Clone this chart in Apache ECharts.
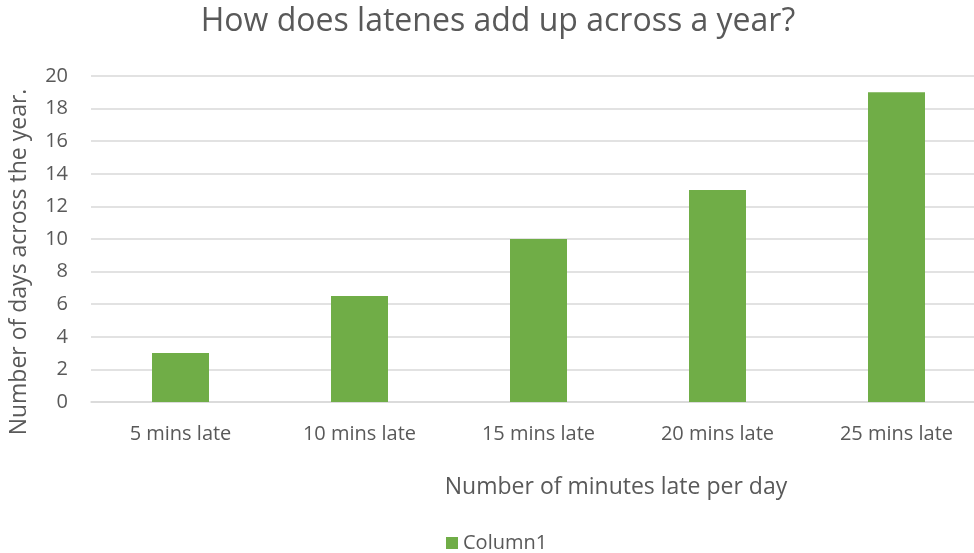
<!DOCTYPE html>
<html><head><meta charset="utf-8">
<script src="https://cdn.jsdelivr.net/npm/echarts@6/dist/echarts.min.js"></script>
<style>html,body{margin:0;padding:0;background:#fff}#c{width:974px;height:553px}</style>
</head><body><div id="c"></div>
<script>
const categories = ['5 mins late','10 mins late','15 mins late','20 mins late','25 mins late'];
const column1 = [3, 6.5, 10, 13, 19];
const yTicks = {min: 0, max: 20, interval: 2};
const FONT = 'Open Sans';
const TXT = '#595959';
const chart = echarts.init(document.getElementById('c'));
chart.setOption({
  animation: false,
  textStyle: {fontFamily: FONT, color: TXT},
  title: [
    {text: 'How does latenes add up across a year?', left: 493, top: 1, textAlign: 'center',
     textStyle: {fontFamily: FONT, fontSize: 32, fontWeight: 'normal', color: TXT}},
    {text: 'Number of minutes late per day', left: 611, top: 471, textAlign: 'center',
     textStyle: {fontFamily: FONT, fontSize: 23, fontWeight: 'normal', color: TXT}}
  ],
  graphic: [{type: 'text', x: 8, y: 262, rotation: Math.PI/2,
    style: {text: 'Number of days across the year.', fill: TXT, font: '23px "Open Sans"', align: 'center', verticalAlign: 'top'}}],
  legend: {top: 528, left: 441, itemWidth: 12, itemHeight: 12, itemGap: 6,
    textStyle: {fontFamily: FONT, fontSize: 20, color: TXT}, icon: 'rect', data: ['Column1']},
  grid: {left: 91, top: 76, width: 895, height: 326, outerBoundsMode: 'none', containLabel: false},
  xAxis: {type: 'category', data: categories,
    axisLine: {lineStyle: {color: '#d9d9d9', width: 1.5}}, axisTick: {show: false},
    axisLabel: {fontFamily: FONT, fontSize: 20, color: TXT, margin: 22}},
  yAxis: {type: 'value', min: yTicks.min, max: yTicks.max, interval: yTicks.interval,
    axisLine: {show: false}, axisTick: {show: false},
    splitLine: {lineStyle: {color: '#d9d9d9', width: 1.5}},
    axisLabel: {fontFamily: FONT, fontSize: 20, color: TXT, margin: 23}},
  series: [{name: 'Column1', type: 'bar', data: column1, barWidth: 57,
    itemStyle: {color: '#70AD47'}}]
});
</script></body></html>
